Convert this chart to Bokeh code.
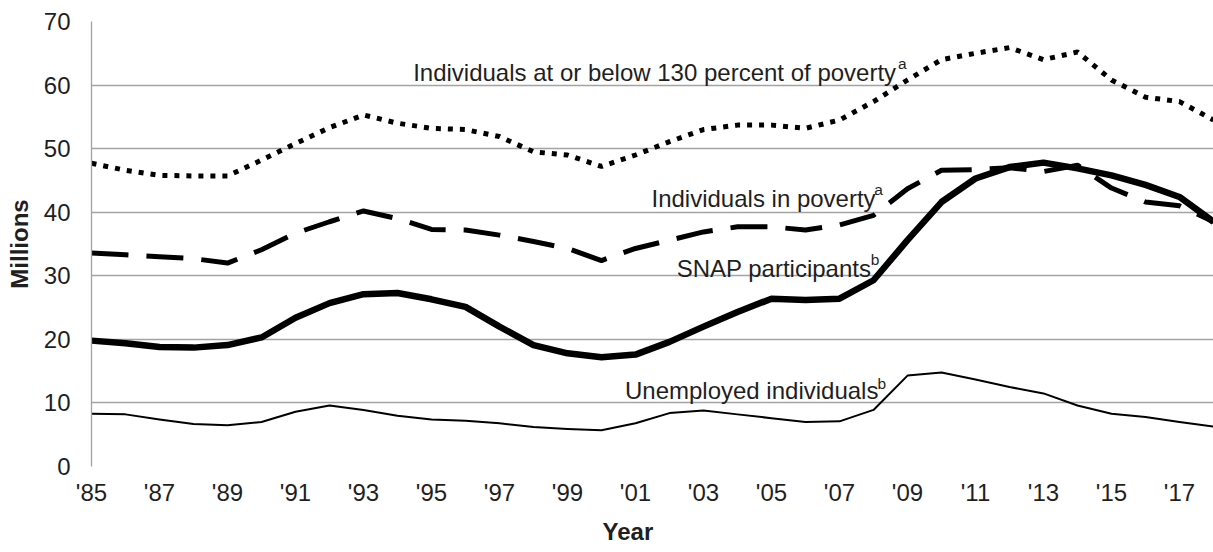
from bokeh.plotting import figure
from bokeh.models import Range1d, FixedTicker, Title, ColumnDataSource
from bokeh.core.properties import value
from bokeh.embed import file_html
from bokeh.resources import INLINE

# ---- data (millions) ----
years = list(range(1985, 2019))
below_130 = [47.7, 46.6, 45.8, 45.7, 45.7, 48.2, 50.8, 53.3, 55.3, 54.0, 53.2, 53.0, 51.9, 49.5, 49.0, 47.2, 49.0,
             51.1, 53.0, 53.7, 53.7, 53.2, 54.5, 57.4, 60.8, 64.0, 65.0, 65.9, 64.0, 65.2, 60.8, 58.1, 57.4, 54.5]
in_poverty = [33.6, 33.3, 33.0, 32.7, 32.0, 34.1, 36.7, 38.5, 40.2, 39.0, 37.3, 37.2, 36.4, 35.4, 34.3, 32.4, 34.3,
              35.6, 36.9, 37.7, 37.7, 37.2, 38.0, 39.5, 43.7, 46.6, 46.7, 47.0, 46.4, 47.4, 43.8, 41.6, 41.0, 38.5]
snap = [19.8, 19.4, 18.8, 18.7, 19.1, 20.3, 23.4, 25.7, 27.1, 27.3, 26.3, 25.1, 22.0, 19.1, 17.8, 17.2, 17.6,
        19.6, 22.0, 24.3, 26.4, 26.2, 26.4, 29.3, 35.6, 41.6, 45.3, 47.1, 47.8, 46.9, 45.8, 44.3, 42.4, 38.5]
unemployed = [8.3, 8.2, 7.4, 6.7, 6.5, 7.0, 8.6, 9.6, 8.9, 8.0, 7.4, 7.2, 6.8, 6.2, 5.9, 5.7, 6.8,
              8.4, 8.8, 8.2, 7.6, 7.0, 7.1, 8.9, 14.3, 14.8, 13.7, 12.5, 11.5, 9.6, 8.3, 7.8, 7.0, 6.3]

x_ticks = [1985, 1987, 1989, 1991, 1993, 1995, 1997, 1999, 2001, 2003, 2005, 2007, 2009, 2011, 2013, 2015, 2017]
x_tick_labels = ["'85", "'87", "'89", "'91", "'93", "'95", "'97", "'99", "'01", "'03", "'05", "'07", "'09",
                 "'11", "'13", "'15", "'17"]
y_ticks = [0, 10, 20, 30, 40, 50, 60, 70]

# series labels (text, x year, y baseline) and their superscripts
label_texts = ["Individuals at or below 130 percent of poverty", "Individuals in poverty",
               "SNAP participants", "Unemployed individuals"]
label_x = [1994.46, 2001.47, 2002.21, 2000.69]
label_y = [61.9, 42.2, 31.2, 12.0]
sup_texts = ["a", "a", "b", "b"]
sup_x = [2008.72, 2008.02, 2007.92, 2008.12]
sup_y = [63.4, 43.5, 32.5, 13.1]

FONT = "Liberation Sans"
TXT = "#1f1f1f"
GRID = "#a3a3a3"
FS = "24px"

p = figure(width=1213, height=552, output_backend="svg", toolbar_location=None,
           x_range=Range1d(1985, 2018), y_range=Range1d(0, 70),
           min_border_left=91, min_border_right=0, min_border_top=21, min_border_bottom=85)
p.outline_line_color = None
p.background_fill_color = "white"
p.border_fill_color = "white"

p.xgrid.grid_line_color = None
p.ygrid.grid_line_color = GRID
p.ygrid.grid_line_width = 1.3
p.ygrid.ticker = FixedTicker(ticks=y_ticks)

# y axis
p.yaxis.ticker = FixedTicker(ticks=y_ticks)
p.yaxis.axis_line_color = GRID
p.yaxis.axis_line_width = 1.3
p.yaxis.major_tick_line_color = None
p.yaxis.minor_tick_line_color = None
p.yaxis.major_tick_out = 0
p.yaxis.major_tick_in = 0
p.yaxis.major_label_standoff = 21
p.yaxis.major_label_text_font = FONT
p.yaxis.major_label_text_font_size = FS
p.yaxis.major_label_text_color = TXT
p.yaxis.axis_label = "Millions"
p.yaxis.axis_label_text_font = FONT
p.yaxis.axis_label_text_font_size = FS
p.yaxis.axis_label_text_font_style = "bold"
p.yaxis.axis_label_text_color = TXT
p.yaxis.axis_label_standoff = 8

# x axis
p.xaxis.ticker = FixedTicker(ticks=x_ticks)
p.xaxis.major_label_overrides = {t: l for t, l in zip(x_ticks, x_tick_labels)}
p.xaxis.axis_line_color = None
p.xaxis.major_tick_line_color = None
p.xaxis.minor_tick_line_color = None
p.xaxis.major_tick_out = 0
p.xaxis.major_tick_in = 0
p.xaxis.major_label_standoff = 12
p.xaxis.major_label_text_font = FONT
p.xaxis.major_label_text_font_size = FS
p.xaxis.major_label_text_color = TXT

# x-axis title below the tick labels
p.add_layout(Title(text="Year", align="left", offset=511, text_font=FONT, text_font_size=FS,
                   text_font_style="bold", text_color=TXT, standoff=15), "below")

src = ColumnDataSource(dict(x=years, b130=below_130, pov=in_poverty, snap=snap, un=unemployed))

p.line("x", "b130", source=src, line_color="black", line_width=5, line_dash="5 7")
p.line("x", "pov", source=src, line_color="black", line_width=5, line_dash="37 18")
p.line("x", "un", source=src, line_color="black", line_width=2, line_join="round")
p.line("x", "snap", source=src, line_color="black", line_width=6.5, line_join="round")

lab = ColumnDataSource(dict(x=label_x, y=label_y, t=label_texts))
p.text("x", "y", text="t", source=lab, text_font=value(FONT), text_font_size=FS,
       text_color=TXT, text_align="left", text_baseline="alphabetic")
sup = ColumnDataSource(dict(x=sup_x, y=sup_y, t=sup_texts))
p.text("x", "y", text="t", source=sup, text_font=value(FONT), text_font_size="15.5px",
       text_color=TXT, text_align="left", text_baseline="alphabetic")

open("out.html", "w").write(file_html(p, INLINE))
